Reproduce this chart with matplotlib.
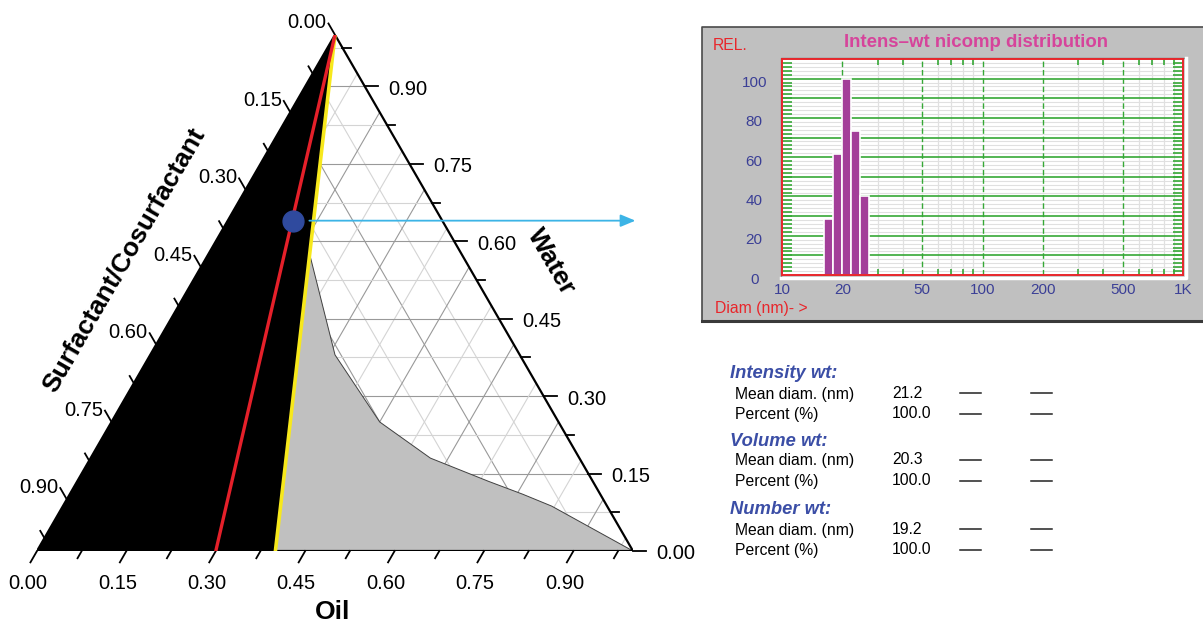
import numpy as np
import matplotlib.pyplot as plt
from matplotlib.patches import Polygon, Rectangle
from matplotlib.transforms import ScaledTranslation

plt.rcParams['font.family'] = ['Liberation Sans', 'DejaVu Sans']

# ---------------------------------------------------------------------------
# Ternary phase diagram (oil / water fractions, surfactant = remainder)
red_oil = [0.0, 0.30]
red_water = [1.0, 0.0]
yellow_oil = [0.0, 0.40]
yellow_water = [1.0, 0.0]
gray_oil = [0.40, 0.17, 0.31, 0.45, 0.57, 0.69, 0.76, 0.82, 1.00]
gray_water = [0.00, 0.575, 0.38, 0.25, 0.18, 0.135, 0.11, 0.087, 0.00]
dot_oil, dot_water = 0.11, 0.64
tern_labels = ['0.00', '0.15', '0.30', '0.45', '0.60', '0.75', '0.90']

# Nicomp distribution
bin_edges = [16.2, 17.9, 19.9, 22.1, 24.5, 27.2]
rel_heights = [28.5, 61.5, 100.0, 73.2, 40.2]
x_ticks = [10, 20, 50, 100, 200, 500, 1000]
x_ticklabels = ['10', '20', '50', '100', '200', '500', '1K']
x_minor = [30, 40, 60, 70, 80, 90, 300, 400, 600, 700, 800, 900]
y_ticks = [0, 20, 40, 60, 80, 100]

# summary table
groups = ['Intensity wt:', 'Volume wt:', 'Number wt:']
mean_diam = ['21.2', '20.3', '19.2']
percent = ['100.0', '100.0', '100.0']
# ---------------------------------------------------------------------------

W, H = 1203, 626
fig = plt.figure(figsize=(W / 100, H / 100), dpi=100)

S3 = np.sqrt(3) / 2


def tern(oil, water):
    oil = np.asarray(oil, float)
    water = np.asarray(water, float)
    return oil + water / 2, water * S3


# background overlay (pixel coordinates) for panel and table
bg = fig.add_axes([0, 0, 1, 1], zorder=0)
bg.set_xlim(0, W)
bg.set_ylim(H, 0)
bg.axis('off')

# ---------------- ternary diagram ----------------
side = 596
tx = fig.add_axes([37 / W, (H - 551) / H, side / W, side * S3 / H], zorder=2)
tx.set_xlim(0, 1)
tx.set_ylim(0, S3)
tx.axis('off')

steps = np.arange(1, 14) * 0.075
for i, k in enumerate(steps, start=1):
    col = '#999999' if i % 2 == 0 else '#d4d4d4'
    for o, w in [([0, 1 - k], [k, k]),
                 ([k, k], [0, 1 - k]),
                 ([1 - k, 0], [0, 1 - k])]:
        x, y = tern(o, w)
        tx.plot(x, y, color=col, lw=0.8, zorder=1)

# black single-phase region
bx, by = tern([0, 0, yellow_oil[1]], [0, 1, 0])
tx.add_patch(Polygon(np.column_stack([bx, by]), closed=True, fc='black', ec='none', zorder=2))

# gray region
gx, gy = tern(gray_oil, gray_water)
tx.add_patch(Polygon(np.column_stack([gx, gy]), closed=True, fc='#c0c0c0', ec='none', zorder=2))
tx.plot(gx[1:], gy[1:], color='#404040', lw=0.7, zorder=3)

# outline
ox, oy = tern([0, 1, 0, 0], [0, 0, 1, 0])
tx.plot(ox, oy, color='black', lw=1.6, zorder=4, solid_joinstyle='miter')

x, y = tern(yellow_oil, yellow_water)
tx.plot(x, y, color='#f7e81c', lw=2.6, zorder=5)
x, y = tern(red_oil, red_water)
tx.plot(x, y, color='#e5202a', lw=2.4, zorder=5)

dx, dy = tern(dot_oil, dot_water)
tx.plot(dx, dy, 'o', ms=15, color='#2f4a9e', zorder=7)
tx.annotate('', xy=(1.004, dy), xytext=(dx + 0.027, dy),
            arrowprops=dict(arrowstyle='-|>,head_length=0.6,head_width=0.25',
                            color='#3cb4e6', lw=1.3, mutation_scale=15,
                            shrinkA=0, shrinkB=0),
            annotation_clip=False, zorder=6)

# ticks
for i in range(14):
    v = i * 0.075
    L = 0.022 if i % 2 == 0 else 0.014
    # bottom (oil)
    px, py = tern(v, 0)
    tx.plot([px, px - 0.5 * L], [py, py - S3 * L], color='black', lw=1.3, clip_on=False)
    # left (surfactant)
    px, py = tern(0, 1 - v)
    tx.plot([px, px - 0.5 * L], [py, py + S3 * L], color='black', lw=1.3, clip_on=False)
    # right (water)
    px, py = tern(1 - v, v)
    tx.plot([px, px + L], [py, py], color='black', lw=1.3, clip_on=False)

for j, lab in enumerate(tern_labels):
    v = j * 0.15
    px, py = tern(v, 0)
    tx.text(px - 0.015, py - 0.054, lab, ha='center', va='center', fontsize=14.5)
    px, py = tern(0, 1 - v)
    tx.text(px - 0.047, py + 0.020, lab, ha='center', va='center', fontsize=14.5)
    px, py = tern(1 - v, v)
    tx.text(px + 0.072, py - 0.005, lab, ha='center', va='center', fontsize=14.5)

tx.text(0.4966, -0.102, 'Oil', ha='center', va='center', fontsize=19, fontweight='bold')
tx.text(0.862, 0.485, 'Water', ha='center', va='center', fontsize=19,
        fontweight='bold', rotation=-60, rotation_mode='anchor')
tx.text(0.146, 0.488, 'Surfactant/Cosurfactant', ha='center', va='center',
        fontsize=19, fontweight='bold', rotation=60, rotation_mode='anchor')

# ---------------- nicomp panel ----------------
bg.add_patch(Rectangle((702, 26.5), 540, 295, fc='#c0c0c0', ec='none'))
bg.plot([1210, 702, 702], [26.5, 26.5, 321], color='#4a4a4a', lw=1.2)
bg.plot([702, 1210], [321, 321], color='#3a3a3a', lw=2.2)
bg.plot([781, 781, 1185], [276, 57.6, 57.6], color='#707070', lw=1.0)
bg.plot([781, 1185.6, 1185.6], [277.6, 277.6, 57.6], color='white', lw=2.5)

green = '#36a836'
navy = '#3b3f96'
red = '#e8262b'

hx = fig.add_axes([782 / W, (H - 275) / H, 401 / W, 216 / H], zorder=1)
hx.set_xscale('log')
hx.set_xlim(10, 1000)
hx.set_ylim(0, 110)
hx.set_facecolor('white')

for v in range(2, 110, 2):
    if v % 10:
        hx.axhline(v, color='#e0e0e0', lw=0.8, zorder=0)
for v in range(10, 110, 10):
    hx.axhline(v, color=green, lw=1.2, zorder=1)
for v in x_minor:
    hx.axvline(v, color='#e0e0e0', lw=0.9, zorder=0)
for v in x_ticks[1:-1]:
    hx.axvline(v, color=green, lw=1.0, ls=(0, (4, 2)), zorder=1)

lefts = np.array(bin_edges[:-1])
widths = np.array(bin_edges[1:]) - lefts
hx.bar(lefts, rel_heights, width=widths, align='edge', color='#a33e99',
       edgecolor='white', lw=1.2, zorder=3)

hx.set_xticks(x_ticks, x_ticklabels)
hx.set_xticks(x_minor, minor=True)
hx.set_yticks(y_ticks)
hx.set_yticks(np.arange(2, 110, 2), minor=True)
hx.tick_params(axis='x', which='major', length=0, pad=6, labelsize=11, labelcolor=navy)
hx.tick_params(axis='x', which='minor', direction='in', top=True, bottom=True,
               length=4, width=1.2, color=green)
hx.tick_params(axis='y', which='major', length=0, pad=20, labelsize=11, labelcolor=navy)
hx.tick_params(axis='y', which='minor', direction='in', left=True, right=True,
               length=7, width=1.2, color=green)
off = ScaledTranslation(0, -3 / 100, fig.dpi_scale_trans)
for lab in hx.get_yticklabels():
    lab.set_ha('center')
    lab.set_transform(lab.get_transform() + off)
for sp in hx.spines.values():
    sp.set_color(red)
    sp.set_linewidth(1.4)
    sp.set_zorder(5)

bg.text(713, 45, 'REL.', color=red, fontsize=11.3, ha='left', va='center')
bg.text(715, 309, 'Diam (nm)- >', color=red, fontsize=11.3, ha='left', va='center')
bg.text(976.5, 42.5, 'Intens\u2013wt nicomp distribution', color='#d6449b',
        fontsize=13.4, fontweight='bold', ha='center', va='center')

# ---------------- summary table ----------------
title_y = [374, 441, 510]
for g, md, pc, y0 in zip(groups, mean_diam, percent, title_y):
    bg.text(730, y0, g, color='#3b4ea6', fontsize=13.2, fontweight='bold',
            fontstyle='italic', ha='left', va='center')
    for k, (name, val) in enumerate([('Mean diam. (nm)', md), ('Percent (%)', pc)]):
        yy = y0 + 20 + 20.5 * k
        bg.text(735, yy, name, fontsize=11.3, ha='left', va='center')
        bg.text(892, yy - 1, val, fontsize=11.3, ha='left', va='center')
        bg.plot([960, 981], [yy - 1, yy - 1], color='#222222', lw=1.1)
        bg.plot([1031, 1052], [yy - 1, yy - 1], color='#222222', lw=1.1)

fig.savefig('out.png', dpi=100)
